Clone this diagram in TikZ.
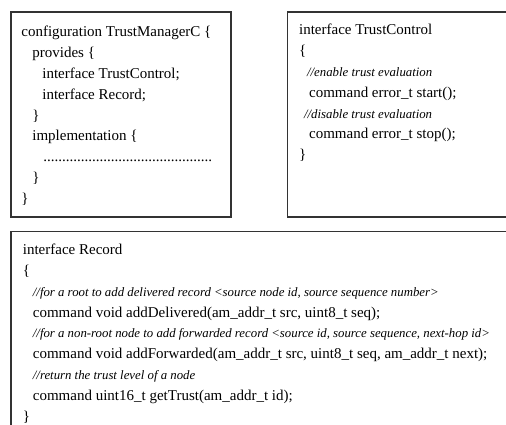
\documentclass[tikz,border=0pt]{standalone}
\usepackage{fontspec}
\setmainfont{Liberation Serif}
\usetikzlibrary{positioning}
\newcommand\cmt{\fontsize{12.8}{20.8}\selectfont\itshape}
\tikzset{
  every picture/.style={line width=0.8pt},
  panel/.style={draw=black!80, line width=1.7pt, rectangle, anchor=north west, inner sep=0pt},
  code/.style={anchor=north west, align=left, inner sep=0pt, font=\fontsize{15}{20.8}\selectfont},
}
\begin{document}
\begin{tikzpicture}[x=1pt, y=-1pt]
    \useasboundingbox (0,0) rectangle (506,425);
    \clip (0,0) rectangle (506,425);

    \node[panel, minimum width=220pt, minimum height=205pt] (cfgbox) at (10,11) {};
    \node[panel, minimum width=240pt, minimum height=205pt, right=55pt of cfgbox] (ctlbox) {};
    \node[panel, minimum width=510pt, minimum height=210pt, below=13pt of cfgbox.south west, anchor=north west] (recbox) {};

    \node[code] (cfgcode) at ([shift={(11,15)}]cfgbox.north west) {%
      configuration TrustManagerC \{\\
      \hspace*{11pt}provides \{\\
      \hspace*{21pt}interface TrustControl;\\
      \hspace*{21pt}interface Record;\\
      \hspace*{11pt}\}\\
      \hspace*{11pt}implementation \{\\
      \hspace*{22pt}.............................................\\
      \hspace*{11pt}\}\\
      \}};

    \node[code] (ctlcode) at ([shift={(12,13)}]ctlbox.north west) {%
      interface TrustControl\\
      \{\\
      \hspace*{8pt}{\cmt //enable trust evaluation}\\
      \hspace*{10pt}command error\_t start();\\
      \hspace*{5pt}{\cmt //disable trust evaluation}\\
      \hspace*{10pt}command error\_t stop();\\
      \}};

    \node[code] (reccode) at ([shift={(12.5,13)}]recbox.north west) {%
      interface Record\\
      \{\\
      \hspace*{10pt}{\cmt //for a root to add delivered record <source node id, source sequence number>}\\
      \hspace*{10pt}command void addDelivered(am\_addr\_t src, uint8\_t seq);\\
      \hspace*{10pt}{\cmt //for a non-root node to add forwarded record <source id, source sequence, next-hop id>}\\
      \hspace*{10pt}command void addForwarded(am\_addr\_t src, uint8\_t seq, am\_addr\_t next);\\
      \hspace*{10pt}{\cmt //return the trust level of a node}\\
      \hspace*{10pt}command uint16\_t getTrust(am\_addr\_t id);\\
      \}};
\end{tikzpicture}
\end{document}
